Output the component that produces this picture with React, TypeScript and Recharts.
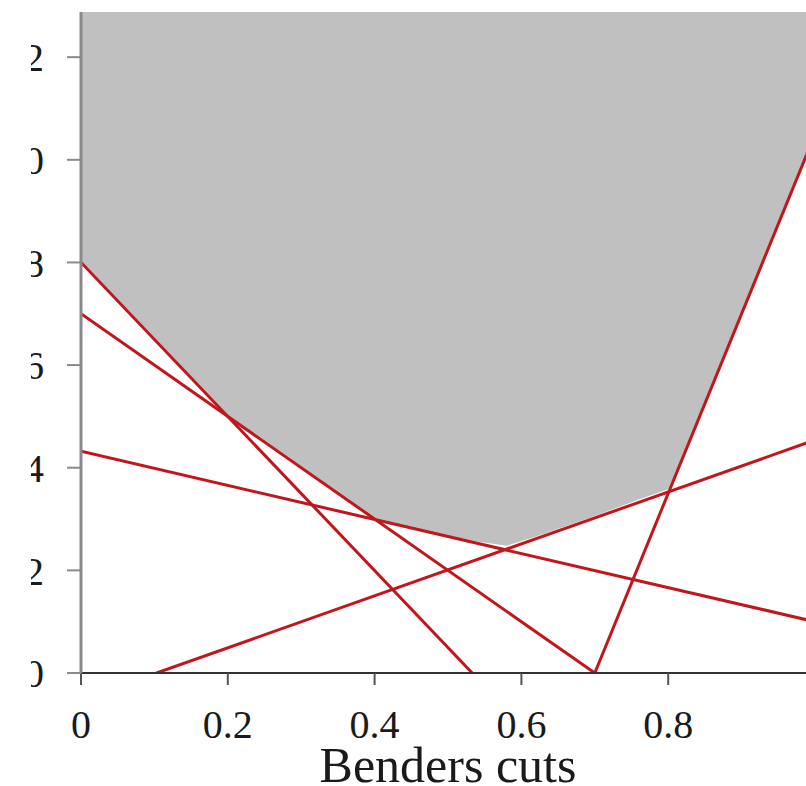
import React from 'react';
import { ComposedChart, Area, Line, XAxis, YAxis } from 'recharts';

// cut endpoints (x, y)
const cut1 = [{ x: 0, y: 8 }, { x: 0.533, y: 0 }];
const cut2 = [{ x: 0, y: 7 }, { x: 0.7, y: 0 }];
const cut3 = [{ x: 0, y: 4.32 }, { x: 1, y: 1.0 }];
const cut4 = [{ x: 0.103, y: 0 }, { x: 1, y: 4.54 }];
const cut5 = [{ x: 0.7, y: 0 }, { x: 1, y: 10.5 }];
const cuts = [cut1, cut2, cut3, cut4, cut5];

// lower edge of the grey region
const boundaryX = [0, 0.1, 0.2, 0.3, 0.4, 0.45, 0.5, 0.54, 0.58, 0.62, 0.7, 0.76, 0.8, 0.82, 0.9, 1];
const boundaryY = [8, 6.5, 5, 4, 3, 2.84, 2.68, 2.56, 2.48, 2.66, 3.06, 3.38, 3.58, 4.2, 7, 10.5];

const xTicks = [0, 0.2, 0.4, 0.6, 0.8];
const yTicks = [0, 2, 4, 6, 8, 10, 12];
const yTop = 12.88;

const regionData = boundaryX.map((x, i) => ({ x, band: [boundaryY[i], yTop] }));

const font = '"Liberation Serif", "DejaVu Serif", serif';
const red = '#c1161c';

export default function App() {
    return (
        <div style={{ position: 'absolute', left: 31, top: 0, width: 775, height: 786, overflow: 'hidden', background: '#fff' }}>
            <div style={{ marginLeft: -31 }}>
                <ComposedChart width={830} height={786} margin={{ top: 12, right: 15, bottom: 0, left: 0 }}>
                    <XAxis
                        type="number"
                        dataKey="x"
                        domain={[0, 1]}
                        ticks={xTicks}
                        allowDataOverflow
                        height={113}
                        axisLine={{ stroke: '#333', strokeWidth: 2 }}
                        tickLine={{ stroke: '#555', strokeWidth: 2 }}
                        tickSize={12}
                        tickMargin={25}
                        tick={{ fontFamily: font, fontSize: 40, fill: '#1a1a1a' }}
                        label={{ value: 'Benders cuts', position: 'insideBottom', offset: 4, fontFamily: font, fontSize: 50, fill: '#1a1a1a' }}
                    />
                    <YAxis
                        type="number"
                        domain={[0, yTop]}
                        ticks={yTicks}
                        allowDataOverflow
                        width={81}
                        axisLine={{ stroke: '#8a8a8a', strokeWidth: 3 }}
                        tickLine={{ stroke: '#8a8a8a', strokeWidth: 2 }}
                        tickSize={14}
                        tickMargin={23}
                        tick={{ fontFamily: font, fontSize: 40, fill: '#1a1a1a' }}
                    />
                    <Area
                        data={regionData}
                        dataKey="band"
                        type="linear"
                        fill="#c0c0c0"
                        fillOpacity={1}
                        stroke="none"
                        isAnimationActive={false}
                    />
                    {cuts.map((c, i) => (
                        <Line
                            key={i}
                            data={c}
                            dataKey="y"
                            type="linear"
                            stroke={red}
                            strokeWidth={3}
                            dot={false}
                            activeDot={false}
                            isAnimationActive={false}
                        />
                    ))}
                </ComposedChart>
            </div>
        </div>
    );
}
